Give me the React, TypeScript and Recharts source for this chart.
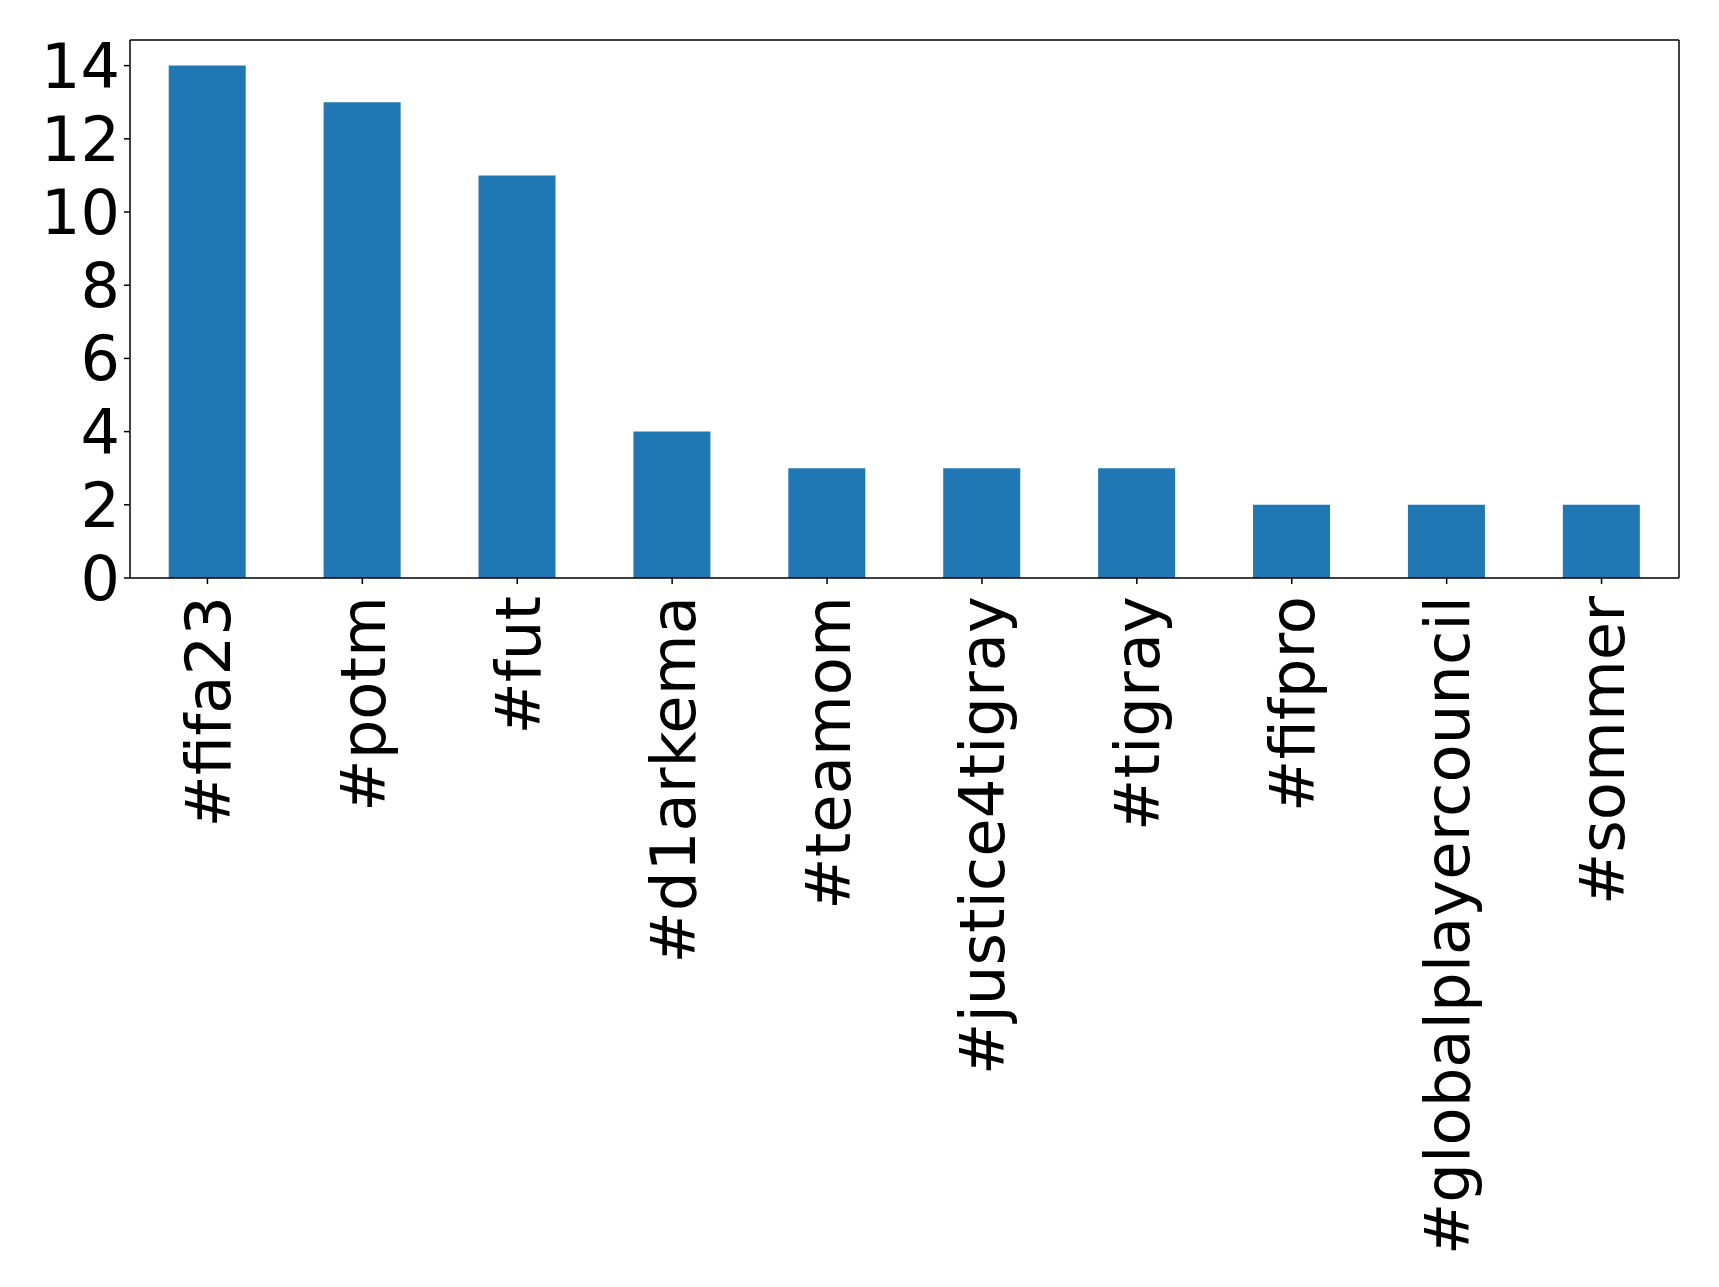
import React from "react";
import { BarChart, Bar, XAxis, YAxis, ReferenceLine, CartesianGrid } from "recharts";

const hashtags = [
  "#fifa23",
  "#potm",
  "#fut",
  "#d1arkema",
  "#teamom",
  "#justice4tigray",
  "#tigray",
  "#fifpro",
  "#globalplayercouncil",
  "#sommer",
];
const counts = [14, 13, 11, 4, 3, 3, 3, 2, 2, 2];
const yTicks = [0, 2, 4, 6, 8, 10, 12, 14];
const Y_MAX = 14.7;

const FONT = "'DejaVu Sans', sans-serif";

const RotatedTick = (props: any) => {
  const { x, y, payload } = props;
  return (
    <text
      x={x}
      y={y}
      transform={`rotate(-90, ${x}, ${y})`}
      textAnchor="end"
      dy="0.36em"
      fontSize={62.5}
      fontFamily={FONT}
      fill="#000"
    >
      {payload.value}
    </text>
  );
};

// right spine: one vertical grid line at the right edge of the plot area
const rightEdge = ({ offset }: any) => [offset.left + offset.width];

export default function App() {
  const data = hashtags.map((name, i) => ({ name, count: counts[i] }));

  return (
    <div style={{ fontFamily: FONT, width: 1711, height: 1279 }}>
      <BarChart
        width={1711}
        height={1279}
        data={data}
        margin={{ top: 32, right: 40, bottom: 29, left: 0 }}
        barCategoryGap="25%"
      >
        <CartesianGrid
          horizontal={false}
          verticalCoordinatesGenerator={rightEdge}
          stroke="#000"
          strokeWidth={1.5}
          strokeDasharray=""
        />
        <XAxis
          dataKey="name"
          interval={0}
          height={680}
          tickSize={6}
          tickMargin={12}
          axisLine={{ stroke: "#000", strokeWidth: 1.5 }}
          tickLine={{ stroke: "#000", strokeWidth: 1.5 }}
          tick={<RotatedTick />}
        />
        <YAxis
          width={122}
          domain={[0, Y_MAX]}
          ticks={yTicks}
          interval={0}
          tickSize={6}
          tickMargin={4}
          axisLine={{ stroke: "#000", strokeWidth: 1.5 }}
          tickLine={{ stroke: "#000", strokeWidth: 1.5 }}
          tick={{ fontSize: 62, fill: "#000", fontFamily: FONT }}
        />
        <Bar dataKey="count" fill="#1f77b4" isAnimationActive={false} />
        {/* top spine */}
        <ReferenceLine y={Y_MAX} stroke="#000" strokeWidth={1.5} />
      </BarChart>
    </div>
  );
}
